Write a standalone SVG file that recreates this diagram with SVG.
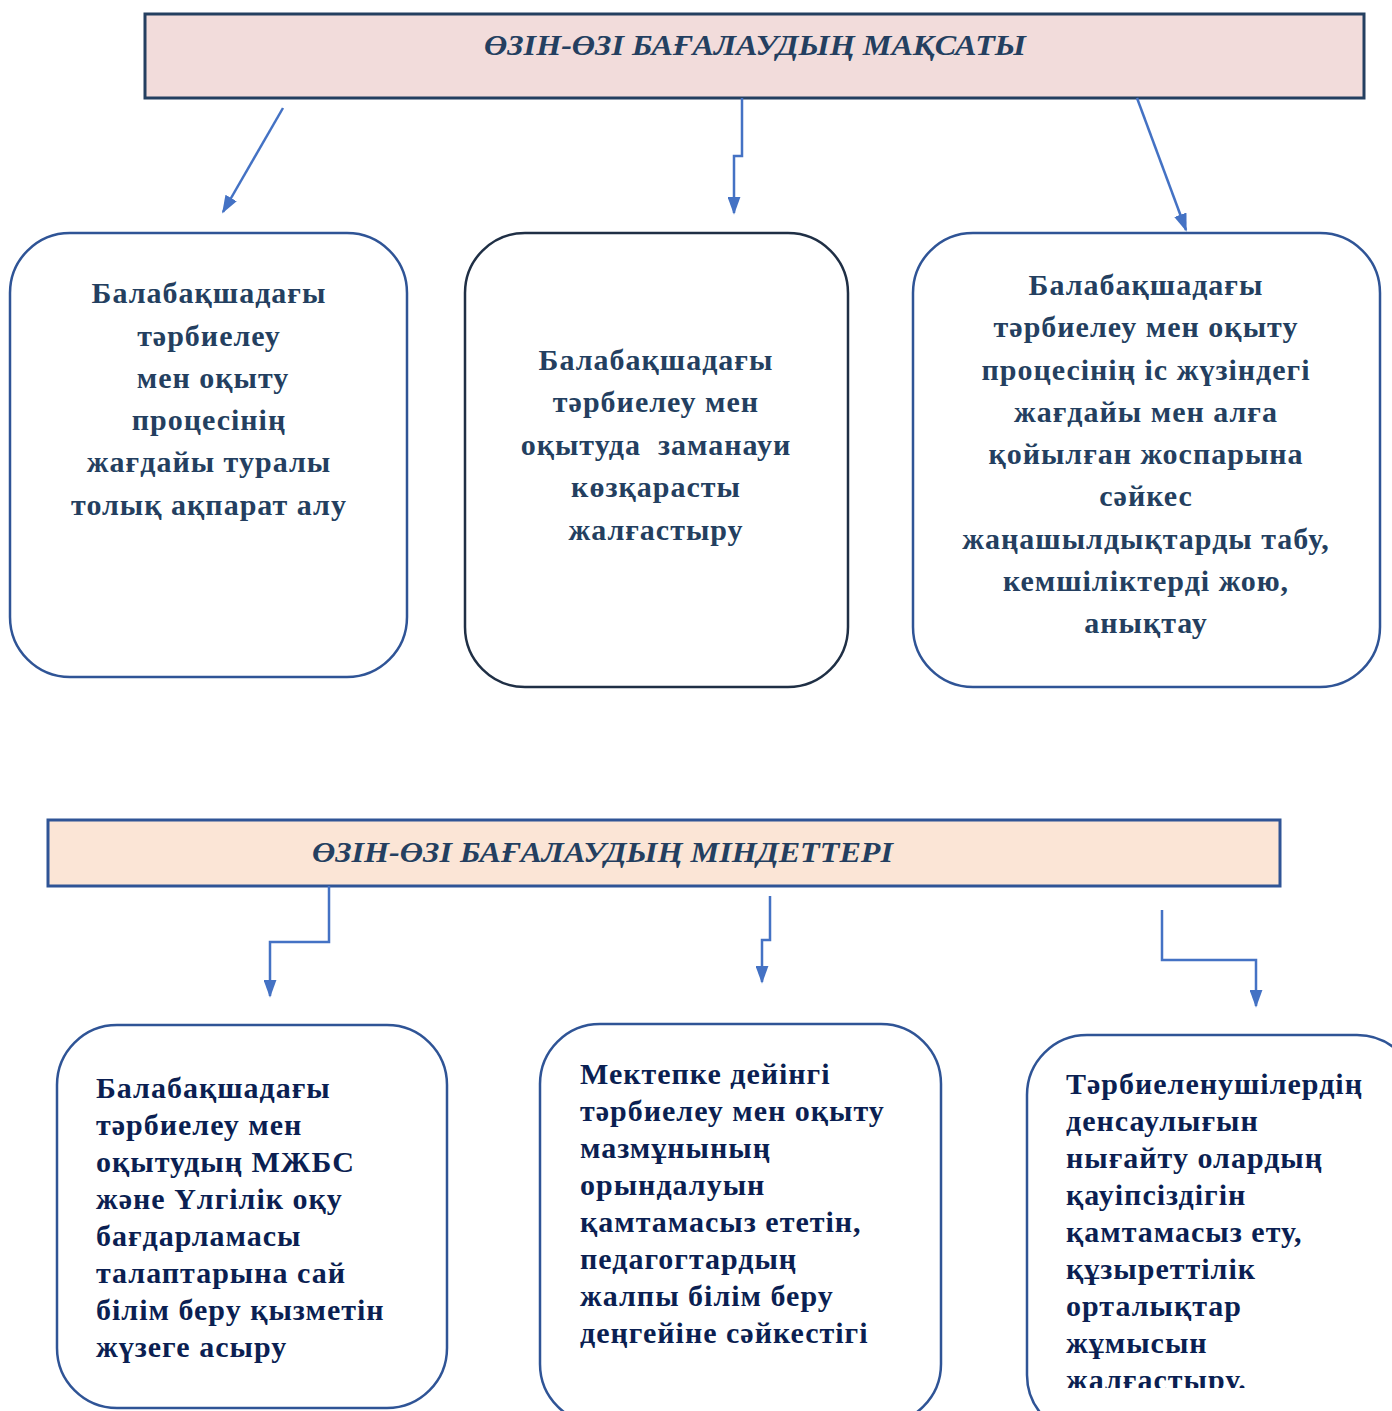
<svg xmlns="http://www.w3.org/2000/svg" width="1392" height="1411" viewBox="0 0 1392 1411">
<style>
.title{font-family:"Liberation Serif","Times New Roman",serif;font-weight:bold;font-style:italic;font-size:30px;fill:#243F60}
.t{font-family:"Liberation Serif","Times New Roman",serif;font-weight:bold;font-size:30px;letter-spacing:1px;fill:#243F60;text-anchor:middle}
.b{font-family:"Liberation Serif","Times New Roman",serif;font-weight:bold;font-size:30px;letter-spacing:1px;fill:#0B1F52}
.box{fill:#fff;stroke:#2F5496;stroke-width:2.5}
.conn{fill:none;stroke:#4472C4;stroke-width:2.5}
</style>
<defs>
<marker id="ah2" viewBox="0 0 10 10" markerWidth="18" markerHeight="13" refX="9" refY="5" orient="auto" markerUnits="userSpaceOnUse" preserveAspectRatio="none"><path d="M0,0 L10,5 L0,10 Z" fill="#4472C4"/></marker>
<clipPath id="c6"><rect x="1027" y="1035" width="365" height="353"/></clipPath>
</defs>
<rect width="1392" height="1411" fill="#fff"/>

<g id="title1">
<rect x="145" y="14" width="1219" height="84" fill="#F2DCDB" stroke="#243F60" stroke-width="3"/>
<text class="title" x="484" y="55" textLength="542" lengthAdjust="spacingAndGlyphs">ӨЗІН-ӨЗІ БАҒАЛАУДЫҢ МАҚСАТЫ</text>
</g>

<g id="box1">
<rect class="box" x="10" y="233" width="397" height="444" rx="60"/>
<text class="t" x="209" y="303">Балабақшадағы</text>
<text class="t" x="209" y="346">тәрбиелеу</text>
<text class="t" x="213" y="388">мен оқыту</text>
<text class="t" x="209" y="430">процесінің</text>
<text class="t" x="209" y="472">жағдайы туралы</text>
<text class="t" x="209" y="515">толық ақпарат алу</text>
</g>

<g id="box2">
<rect class="box" x="465" y="233" width="383" height="454" rx="60" style="stroke:#1F2F45"/>
<text class="t" x="656" y="370">Балабақшадағы</text>
<text class="t" x="656" y="412">тәрбиелеу мен</text>
<text class="t" x="656" y="455" xml:space="preserve">оқытуда  заманауи</text>
<text class="t" x="656" y="497">көзқарасты</text>
<text class="t" x="656" y="540">жалғастыру</text>
</g>

<g id="box3">
<rect class="box" x="913" y="233" width="467" height="454" rx="60"/>
<text class="t" x="1146" y="295">Балабақшадағы</text>
<text class="t" x="1146" y="337">тәрбиелеу мен оқыту</text>
<text class="t" x="1146" y="380">процесінің іс жүзіндегі</text>
<text class="t" x="1146" y="422">жағдайы мен алға</text>
<text class="t" x="1146" y="464">қойылған жоспарына</text>
<text class="t" x="1146" y="506">сәйкес</text>
<text class="t" x="1146" y="549">жаңашылдықтарды табу,</text>
<text class="t" x="1146" y="591">кемшіліктерді жою,</text>
<text class="t" x="1146" y="633">анықтау</text>
</g>

<g id="title2">
<rect x="48" y="820" width="1232" height="66" fill="#FBE5D6" stroke="#2F5496" stroke-width="3"/>
<text class="title" x="312" y="862" textLength="581" lengthAdjust="spacingAndGlyphs">ӨЗІН-ӨЗІ БАҒАЛАУДЫҢ МІНДЕТТЕРІ</text>
</g>

<g id="box4">
<rect class="box" x="57" y="1025" width="390" height="383" rx="60"/>
<text class="b" x="96" y="1098">Балабақшадағы</text>
<text class="b" x="96" y="1135">тәрбиелеу мен</text>
<text class="b" x="96" y="1172">оқытудың МЖБС</text>
<text class="b" x="96" y="1209">және Үлгілік оқу</text>
<text class="b" x="96" y="1246">бағдарламасы</text>
<text class="b" x="96" y="1283">талаптарына сай</text>
<text class="b" x="96" y="1320">білім беру қызметін</text>
<text class="b" x="96" y="1357">жүзеге асыру</text>
</g>

<g id="box5">
<rect class="box" x="540" y="1024" width="401" height="400" rx="60"/>
<text class="b" x="580" y="1084">Мектепке дейінгі</text>
<text class="b" x="580" y="1121">тәрбиелеу мен оқыту</text>
<text class="b" x="580" y="1158">мазмұнының</text>
<text class="b" x="580" y="1195">орындалуын</text>
<text class="b" x="580" y="1232">қамтамасыз ететін,</text>
<text class="b" x="580" y="1269">педагогтардың</text>
<text class="b" x="580" y="1306">жалпы білім беру</text>
<text class="b" x="580" y="1343">деңгейіне сәйкестігі</text>
</g>

<g id="box6">
<rect class="box" x="1027" y="1035" width="390" height="400" rx="60"/>
<g clip-path="url(#c6)">
<text class="b" x="1066" y="1094">Тәрбиеленушілердің</text>
<text class="b" x="1066" y="1131">денсаулығын</text>
<text class="b" x="1066" y="1168">нығайту олардың</text>
<text class="b" x="1066" y="1205">қауіпсіздігін</text>
<text class="b" x="1066" y="1242">қамтамасыз ету,</text>
<text class="b" x="1066" y="1279">құзыреттілік</text>
<text class="b" x="1066" y="1316">орталықтар</text>
<text class="b" x="1066" y="1353">жұмысын</text>
<text class="b" x="1066" y="1390">жалғастыру.</text>
</g>
</g>

<g id="connectors">
<path class="conn" d="M283,108 L223,212" marker-end="url(#ah2)"/>
<path class="conn" d="M742,98 L742,156 L734,156 L734,213" marker-end="url(#ah2)"/>
<path class="conn" d="M1137,98 L1186,230" marker-end="url(#ah2)"/>
<path class="conn" d="M329,886 L329,942 L270,942 L270,996" marker-end="url(#ah2)"/>
<path class="conn" d="M770,896 L770,940 L762,940 L762,982" marker-end="url(#ah2)"/>
<path class="conn" d="M1162,910 L1162,960 L1256,960 L1256,1006" marker-end="url(#ah2)"/>
</g>
</svg>
